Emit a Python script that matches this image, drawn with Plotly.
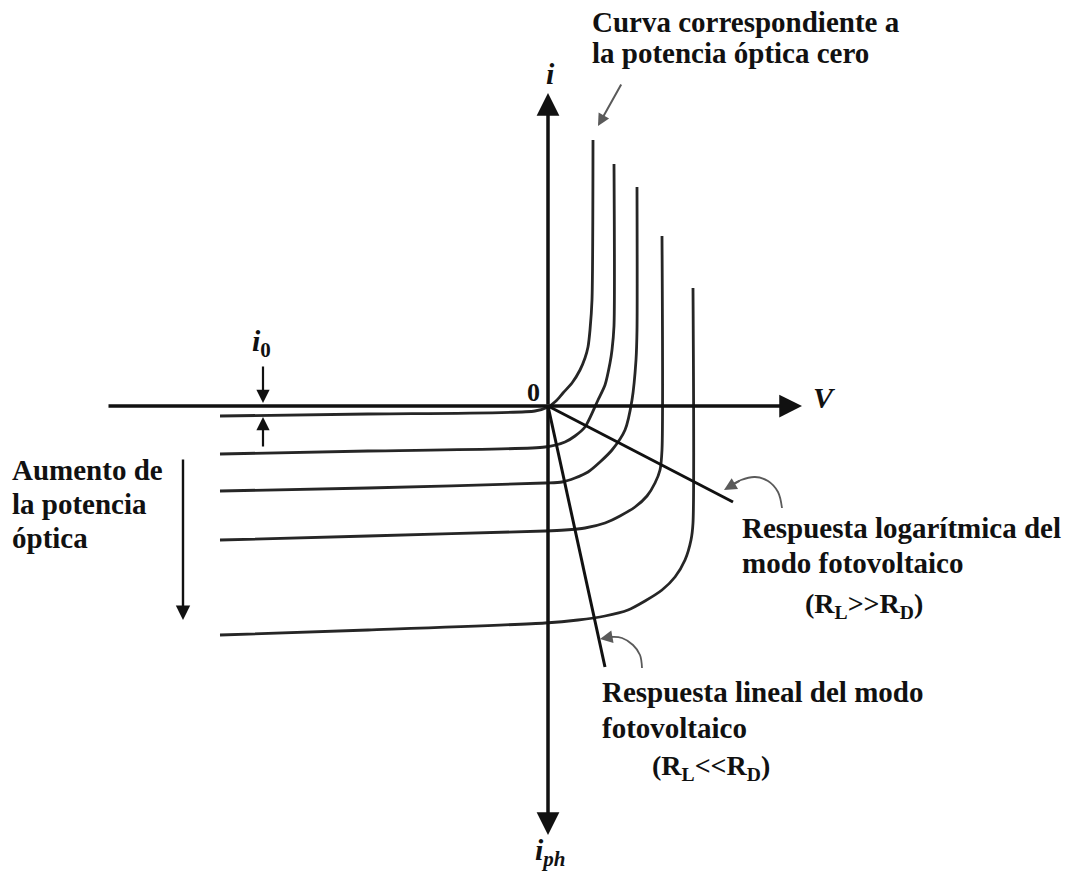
import plotly.graph_objects as go

# Photodiode i-V family: V (horizontal) and i (vertical, up = forward current)
# Units are arbitrary drawing units with the origin at the axes crossing.
V0 = [-328, -180, -13, 0, 8, 15, 24, 32, 37, 40, 42, 44, 45]
I0 = [-10, -8, -5, -1, 5, 13, 23, 36, 48, 59, 76, 106, 266]

V1 = [-328, -180, -3, 17, 27, 37, 50, 57, 62, 64, 66, 66]
I1 = [-48, -45, -41, -36, -30, -21, 6, 21, 43, 56, 80, 242]

V2 = [-328, -180, -3, 14, 27, 40, 52, 64, 77, 84, 88, 89, 89]
I2 = [-85, -82, -77, -76, -72, -66, -56, -44, -24, 6, 46, 76, 219]

V3 = [-328, -180, -3, 17, 37, 57, 72, 87, 99, 107, 112, 114, 114]
I3 = [-134, -130, -125, -124, -122, -117, -110, -101, -90, -77, -64, -44, 170]

V4 = [-328, -180, -3, 30, 57, 80, 97, 114, 127, 137, 143, 145, 145]
I4 = [-229, -224, -217, -214, -210, -204, -195, -184, -171, -154, -134, -117, 118]

# Load lines through the origin
LOG_V = [0, 185]
LOG_I = [0, -96]
LIN_V = [0, 57]
LIN_I = [0, -261]

# Curved pointer strokes towards the load lines
LOG_ARC_V = [234, 230, 220, 207, 193, 182]
LOG_ARC_I = [-102, -86, -75, -71, -74, -80]
LIN_ARC_V = [94, 92, 85, 74, 63, 58]
LIN_ARC_I = [-262, -249, -239, -232, -231, -232]

# Straight arrows: (tail V, tail i, head V, head i)
AXIS_V_ARROW = (-441, 0, 254, 0)
AXIS_I_UP = (0, 0, 0, 313)
AXIS_I_DOWN = (0, 0, 0, -429)
DARK_DOWN = (-285, 41, -285, 3)
DARK_UP = (-285, -42, -285, -11)
POWER_ARROW = (-365, -52, -365, -214)
ZERO_POINTER = (74, 323, 50, 280)

CURVES = [(V0, I0), (V1, I1), (V2, I2), (V3, I3), (V4, I4)]

FONT = "Liberation Serif"
INK = "#111111"
CURVE_INK = "#262626"
GREY = "#5a5a5a"

fig = go.Figure()

for v, i in CURVES:
    fig.add_trace(go.Scatter(
        x=v, y=i, mode="lines",
        line=dict(color=CURVE_INK, width=2.8, shape="spline", smoothing=0.7),
        hoverinfo="skip", showlegend=False,
    ))

for v, i in [(LOG_V, LOG_I), (LIN_V, LIN_I)]:
    fig.add_trace(go.Scatter(
        x=v, y=i, mode="lines",
        line=dict(color=INK, width=3),
        hoverinfo="skip", showlegend=False,
    ))

for v, i in [(LOG_ARC_V, LOG_ARC_I), (LIN_ARC_V, LIN_ARC_I)]:
    fig.add_trace(go.Scatter(
        x=v, y=i, mode="lines",
        line=dict(color=GREY, width=1.8, shape="spline"),
        hoverinfo="skip", showlegend=False,
    ))


def arrow(seg, width=3.0, color=INK, size=1.0, head=2):
    x0, y0, x1, y1 = seg
    fig.add_annotation(
        x=x1, y=y1, ax=x0, ay=y0, xref="x", yref="y", axref="x", ayref="y",
        text="", showarrow=True, arrowhead=head, arrowsize=size,
        arrowwidth=width, arrowcolor=color,
    )


def label(x, y, text, size=29, xanchor="left", bold=True, italic=False):
    t = text
    if bold:
        t = "<b>" + t + "</b>"
    if italic:
        t = "<i>" + t + "</i>"
    fig.add_annotation(
        x=x, y=y, xref="x", yref="y", text=t, showarrow=False,
        xanchor=xanchor, yanchor="middle",
        font=dict(family=FONT, size=size, color=INK),
    )


# Axes with arrowheads
arrow(AXIS_V_ARROW, width=3.5, size=1.3)
arrow(AXIS_I_UP, width=3.5, size=1.3)
arrow(AXIS_I_DOWN, width=3.5, size=1.3)

# Dark-current marker arrows
arrow(DARK_DOWN, width=2.2, size=1.2)
arrow(DARK_UP, width=2.2, size=1.2)

# Increasing optical power arrow
arrow(POWER_ARROW, width=2.4, size=1.2)

# Pointer to the zero-power curve
arrow(ZERO_POINTER, width=2.0, color=GREY, size=1.2)

# Heads of the curved pointers
arrow((LOG_ARC_V[-2], LOG_ARC_I[-2], LOG_ARC_V[-1] - 6, LOG_ARC_I[-1] - 4),
      width=1.8, color=GREY, size=1.4)
arrow((LIN_ARC_V[-2], LIN_ARC_I[-2], LIN_ARC_V[-1] - 6, LIN_ARC_I[-1] - 1),
      width=1.8, color=GREY, size=1.4)

# Axis labels
label(2, 333, "i", size=30, xanchor="center", italic=True)
label(-15, 14, "0", size=26, xanchor="center")
label(276, 9, "V", size=30, xanchor="center", italic=True)
label(-287, 63, "<i>i</i><sub>0</sub>", size=30, xanchor="center")
label(2, -446, "i<sub>ph</sub>", size=30, xanchor="center", italic=True)

# Descriptive text
label(42, 384, "Curva correspondiente a")
label(42, 353, "la potencia óptica cero")

label(-538, -64, "Aumento de")
label(-538, -98, "la potencia")
label(-538, -132, "óptica")

label(192, -122, "Respuesta logarítmica del")
label(192, -157, "modo fotovoltaico")
label(255, -199, "(R<sub>L</sub>>>R<sub>D</sub>)", size=28)

label(52, -286, "Respuesta lineal del modo")
label(52, -322, "fotovoltaico")
label(102, -361, "(R<sub>L</sub><<R<sub>D</sub>)", size=28)

fig.update_xaxes(range=[-548, 523], visible=False, fixedrange=True)
fig.update_yaxes(range=[-468, 406], visible=False, fixedrange=True)
fig.update_layout(
    width=1071, height=874, autosize=False,
    margin=dict(l=0, r=0, t=0, b=0, pad=0),
    paper_bgcolor="white", plot_bgcolor="white",
    showlegend=False,
)

fig.write_html("out.html", config={"displayModeBar": False})
